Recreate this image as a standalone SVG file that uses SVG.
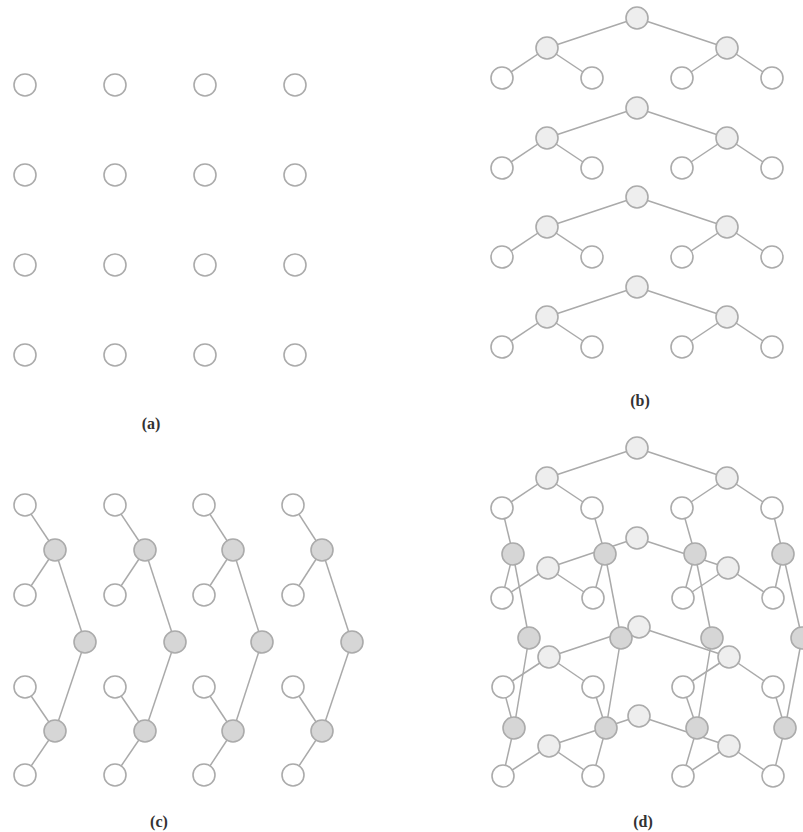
<svg xmlns="http://www.w3.org/2000/svg" width="803" height="832" viewBox="0 0 803 832">
  <style>
    .bg { fill: #ffffff; }
    circle { r: 11px; stroke: #ababab; stroke-width: 1.6; }
    .w { fill: #ffffff; }
    .l { fill: #eeeeee; }
    .g { fill: #d6d6d6; }
    .edges line { stroke: #aaaaaa; stroke-width: 1.5; }
    .cap { font-family: "Liberation Serif", "Times New Roman", serif; font-weight: bold; font-size: 16px; fill: #333333; text-anchor: middle; }
  </style>
  <rect class="bg" x="0" y="0" width="803" height="832"/>

  <!-- (a) 4x4 grid of isolated processors -->
  <g id="panel-a">
    <g id="a11"><circle class="w" cx="25" cy="85" r="11"/></g>
    <g id="a12"><circle class="w" cx="115" cy="85" r="11"/></g>
    <g id="a13"><circle class="w" cx="205" cy="85" r="11"/></g>
    <g id="a14"><circle class="w" cx="295" cy="85" r="11"/></g>
    <g id="a21"><circle class="w" cx="25" cy="175" r="11"/></g>
    <g id="a22"><circle class="w" cx="115" cy="175" r="11"/></g>
    <g id="a23"><circle class="w" cx="205" cy="175" r="11"/></g>
    <g id="a24"><circle class="w" cx="295" cy="175" r="11"/></g>
    <g id="a31"><circle class="w" cx="25" cy="265" r="11"/></g>
    <g id="a32"><circle class="w" cx="115" cy="265" r="11"/></g>
    <g id="a33"><circle class="w" cx="205" cy="265" r="11"/></g>
    <g id="a34"><circle class="w" cx="295" cy="265" r="11"/></g>
    <g id="a41"><circle class="w" cx="25" cy="355" r="11"/></g>
    <g id="a42"><circle class="w" cx="115" cy="355" r="11"/></g>
    <g id="a43"><circle class="w" cx="205" cy="355" r="11"/></g>
    <g id="a44"><circle class="w" cx="295" cy="355" r="11"/></g>
    <text class="cap" x="151" y="429">(a)</text>
  </g>

  <!-- (b) one binary tree per row -->
  <g id="panel-b">
    <g id="b-edges" class="edges">
      <line x1="637" y1="18" x2="547" y2="48"/><line x1="637" y1="18" x2="727" y2="48"/>
      <line x1="547" y1="48" x2="502" y2="78"/><line x1="547" y1="48" x2="592" y2="78"/>
      <line x1="727" y1="48" x2="682" y2="78"/><line x1="727" y1="48" x2="772" y2="78"/>

      <line x1="637" y1="108" x2="547" y2="138"/><line x1="637" y1="108" x2="727" y2="138"/>
      <line x1="547" y1="138" x2="502" y2="168"/><line x1="547" y1="138" x2="592" y2="168"/>
      <line x1="727" y1="138" x2="682" y2="168"/><line x1="727" y1="138" x2="772" y2="168"/>

      <line x1="637" y1="197" x2="547" y2="227"/><line x1="637" y1="197" x2="727" y2="227"/>
      <line x1="547" y1="227" x2="502" y2="257"/><line x1="547" y1="227" x2="592" y2="257"/>
      <line x1="727" y1="227" x2="682" y2="257"/><line x1="727" y1="227" x2="772" y2="257"/>

      <line x1="637" y1="287" x2="547" y2="317"/><line x1="637" y1="287" x2="727" y2="317"/>
      <line x1="547" y1="317" x2="502" y2="347"/><line x1="547" y1="317" x2="592" y2="347"/>
      <line x1="727" y1="317" x2="682" y2="347"/><line x1="727" y1="317" x2="772" y2="347"/>
    </g>
    <g id="b-t1-root"><circle class="l" cx="637" cy="18" r="11"/></g>
    <g id="b-t1-m1"><circle class="l" cx="547" cy="48" r="11"/></g>
    <g id="b-t1-m2"><circle class="l" cx="727" cy="48" r="11"/></g>
    <g id="b-t1-l1"><circle class="w" cx="502" cy="78" r="11"/></g>
    <g id="b-t1-l2"><circle class="w" cx="592" cy="78" r="11"/></g>
    <g id="b-t1-l3"><circle class="w" cx="682" cy="78" r="11"/></g>
    <g id="b-t1-l4"><circle class="w" cx="772" cy="78" r="11"/></g>

    <g id="b-t2-root"><circle class="l" cx="637" cy="108" r="11"/></g>
    <g id="b-t2-m1"><circle class="l" cx="547" cy="138" r="11"/></g>
    <g id="b-t2-m2"><circle class="l" cx="727" cy="138" r="11"/></g>
    <g id="b-t2-l1"><circle class="w" cx="502" cy="168" r="11"/></g>
    <g id="b-t2-l2"><circle class="w" cx="592" cy="168" r="11"/></g>
    <g id="b-t2-l3"><circle class="w" cx="682" cy="168" r="11"/></g>
    <g id="b-t2-l4"><circle class="w" cx="772" cy="168" r="11"/></g>

    <g id="b-t3-root"><circle class="l" cx="637" cy="197" r="11"/></g>
    <g id="b-t3-m1"><circle class="l" cx="547" cy="227" r="11"/></g>
    <g id="b-t3-m2"><circle class="l" cx="727" cy="227" r="11"/></g>
    <g id="b-t3-l1"><circle class="w" cx="502" cy="257" r="11"/></g>
    <g id="b-t3-l2"><circle class="w" cx="592" cy="257" r="11"/></g>
    <g id="b-t3-l3"><circle class="w" cx="682" cy="257" r="11"/></g>
    <g id="b-t3-l4"><circle class="w" cx="772" cy="257" r="11"/></g>

    <g id="b-t4-root"><circle class="l" cx="637" cy="287" r="11"/></g>
    <g id="b-t4-m1"><circle class="l" cx="547" cy="317" r="11"/></g>
    <g id="b-t4-m2"><circle class="l" cx="727" cy="317" r="11"/></g>
    <g id="b-t4-l1"><circle class="w" cx="502" cy="347" r="11"/></g>
    <g id="b-t4-l2"><circle class="w" cx="592" cy="347" r="11"/></g>
    <g id="b-t4-l3"><circle class="w" cx="682" cy="347" r="11"/></g>
    <g id="b-t4-l4"><circle class="w" cx="772" cy="347" r="11"/></g>
    <text class="cap" x="640" y="406">(b)</text>
  </g>

  <!-- (c) one tree per column, internal nodes shaded -->
  <g id="panel-c">
    <g id="c-edges" class="edges">
      <line x1="25" y1="505" x2="55" y2="550"/><line x1="55" y1="550" x2="25" y2="595"/>
      <line x1="55" y1="550" x2="85" y2="642"/><line x1="85" y1="642" x2="55" y2="731"/>
      <line x1="25" y1="687" x2="55" y2="731"/><line x1="55" y1="731" x2="25" y2="775"/>

      <line x1="115" y1="505" x2="145" y2="550"/><line x1="145" y1="550" x2="115" y2="595"/>
      <line x1="145" y1="550" x2="175" y2="642"/><line x1="175" y1="642" x2="145" y2="731"/>
      <line x1="115" y1="687" x2="145" y2="731"/><line x1="145" y1="731" x2="115" y2="775"/>

      <line x1="204" y1="505" x2="233" y2="550"/><line x1="233" y1="550" x2="204" y2="595"/>
      <line x1="233" y1="550" x2="262" y2="642"/><line x1="262" y1="642" x2="233" y2="731"/>
      <line x1="204" y1="687" x2="233" y2="731"/><line x1="233" y1="731" x2="204" y2="775"/>

      <line x1="293" y1="505" x2="322" y2="550"/><line x1="322" y1="550" x2="293" y2="595"/>
      <line x1="322" y1="550" x2="352" y2="642"/><line x1="352" y1="642" x2="322" y2="731"/>
      <line x1="293" y1="687" x2="322" y2="731"/><line x1="322" y1="731" x2="293" y2="775"/>
    </g>
    <g id="c1-l1"><circle class="w" cx="25" cy="505" r="11"/></g>
    <g id="c1-g1"><circle class="g" cx="55" cy="550" r="11"/></g>
    <g id="c1-l2"><circle class="w" cx="25" cy="595" r="11"/></g>
    <g id="c1-g2"><circle class="g" cx="85" cy="642" r="11"/></g>
    <g id="c1-l3"><circle class="w" cx="25" cy="687" r="11"/></g>
    <g id="c1-g3"><circle class="g" cx="55" cy="731" r="11"/></g>
    <g id="c1-l4"><circle class="w" cx="25" cy="775" r="11"/></g>

    <g id="c2-l1"><circle class="w" cx="115" cy="505" r="11"/></g>
    <g id="c2-g1"><circle class="g" cx="145" cy="550" r="11"/></g>
    <g id="c2-l2"><circle class="w" cx="115" cy="595" r="11"/></g>
    <g id="c2-g2"><circle class="g" cx="175" cy="642" r="11"/></g>
    <g id="c2-l3"><circle class="w" cx="115" cy="687" r="11"/></g>
    <g id="c2-g3"><circle class="g" cx="145" cy="731" r="11"/></g>
    <g id="c2-l4"><circle class="w" cx="115" cy="775" r="11"/></g>

    <g id="c3-l1"><circle class="w" cx="204" cy="505" r="11"/></g>
    <g id="c3-g1"><circle class="g" cx="233" cy="550" r="11"/></g>
    <g id="c3-l2"><circle class="w" cx="204" cy="595" r="11"/></g>
    <g id="c3-g2"><circle class="g" cx="262" cy="642" r="11"/></g>
    <g id="c3-l3"><circle class="w" cx="204" cy="687" r="11"/></g>
    <g id="c3-g3"><circle class="g" cx="233" cy="731" r="11"/></g>
    <g id="c3-l4"><circle class="w" cx="204" cy="775" r="11"/></g>

    <g id="c4-l1"><circle class="w" cx="293" cy="505" r="11"/></g>
    <g id="c4-g1"><circle class="g" cx="322" cy="550" r="11"/></g>
    <g id="c4-l2"><circle class="w" cx="293" cy="595" r="11"/></g>
    <g id="c4-g2"><circle class="g" cx="352" cy="642" r="11"/></g>
    <g id="c4-l3"><circle class="w" cx="293" cy="687" r="11"/></g>
    <g id="c4-g3"><circle class="g" cx="322" cy="731" r="11"/></g>
    <g id="c4-l4"><circle class="w" cx="293" cy="775" r="11"/></g>
    <text class="cap" x="159" y="827">(c)</text>
  </g>

  <!-- (d) row trees and column trees combined -->
  <g id="panel-d">
    <g id="d-edges" class="edges">
      <!-- row trees -->
      <line x1="637" y1="448" x2="547" y2="478"/><line x1="637" y1="448" x2="727" y2="478"/>
      <line x1="547" y1="478" x2="502" y2="508"/><line x1="547" y1="478" x2="592" y2="508"/>
      <line x1="727" y1="478" x2="682" y2="508"/><line x1="727" y1="478" x2="772" y2="508"/>

      <line x1="637" y1="538" x2="548" y2="568"/><line x1="637" y1="538" x2="728" y2="568"/>
      <line x1="548" y1="568" x2="502" y2="598"/><line x1="548" y1="568" x2="593" y2="598"/>
      <line x1="728" y1="568" x2="683" y2="598"/><line x1="728" y1="568" x2="773" y2="598"/>

      <line x1="639" y1="627" x2="549" y2="657"/><line x1="639" y1="627" x2="729" y2="657"/>
      <line x1="549" y1="657" x2="503" y2="687"/><line x1="549" y1="657" x2="593" y2="687"/>
      <line x1="729" y1="657" x2="683" y2="687"/><line x1="729" y1="657" x2="773" y2="687"/>

      <line x1="639" y1="716" x2="549" y2="746"/><line x1="639" y1="716" x2="729" y2="746"/>
      <line x1="549" y1="746" x2="503" y2="776"/><line x1="549" y1="746" x2="593" y2="776"/>
      <line x1="729" y1="746" x2="683" y2="776"/><line x1="729" y1="746" x2="773" y2="776"/>

      <!-- column trees -->
      <line x1="502" y1="508" x2="513" y2="554"/><line x1="513" y1="554" x2="502" y2="598"/>
      <line x1="513" y1="554" x2="529" y2="638"/><line x1="529" y1="638" x2="514" y2="728"/>
      <line x1="503" y1="687" x2="514" y2="728"/><line x1="514" y1="728" x2="503" y2="776"/>

      <line x1="592" y1="508" x2="605" y2="554"/><line x1="605" y1="554" x2="593" y2="598"/>
      <line x1="605" y1="554" x2="621" y2="638"/><line x1="621" y1="638" x2="606" y2="728"/>
      <line x1="593" y1="687" x2="606" y2="728"/><line x1="606" y1="728" x2="593" y2="776"/>

      <line x1="682" y1="508" x2="695" y2="554"/><line x1="695" y1="554" x2="683" y2="598"/>
      <line x1="695" y1="554" x2="712" y2="638"/><line x1="712" y1="638" x2="697" y2="728"/>
      <line x1="683" y1="687" x2="697" y2="728"/><line x1="697" y1="728" x2="683" y2="776"/>

      <line x1="772" y1="508" x2="783" y2="554"/><line x1="783" y1="554" x2="773" y2="598"/>
      <line x1="783" y1="554" x2="802" y2="638"/><line x1="802" y1="638" x2="785" y2="728"/>
      <line x1="773" y1="687" x2="785" y2="728"/><line x1="785" y1="728" x2="773" y2="776"/>
    </g>

    <g id="d-t1-root"><circle class="l" cx="637" cy="448" r="11"/></g>
    <g id="d-t1-m1"><circle class="l" cx="547" cy="478" r="11"/></g>
    <g id="d-t1-m2"><circle class="l" cx="727" cy="478" r="11"/></g>
    <g id="d-t1-l1"><circle class="w" cx="502" cy="508" r="11"/></g>
    <g id="d-t1-l2"><circle class="w" cx="592" cy="508" r="11"/></g>
    <g id="d-t1-l3"><circle class="w" cx="682" cy="508" r="11"/></g>
    <g id="d-t1-l4"><circle class="w" cx="772" cy="508" r="11"/></g>

    <g id="d-t2-root"><circle class="l" cx="637" cy="538" r="11"/></g>
    <g id="d-t2-m1"><circle class="l" cx="548" cy="568" r="11"/></g>
    <g id="d-t2-m2"><circle class="l" cx="728" cy="568" r="11"/></g>
    <g id="d-t2-l1"><circle class="w" cx="502" cy="598" r="11"/></g>
    <g id="d-t2-l2"><circle class="w" cx="593" cy="598" r="11"/></g>
    <g id="d-t2-l3"><circle class="w" cx="683" cy="598" r="11"/></g>
    <g id="d-t2-l4"><circle class="w" cx="773" cy="598" r="11"/></g>

    <g id="d-t3-root"><circle class="l" cx="639" cy="627" r="11"/></g>
    <g id="d-t3-m1"><circle class="l" cx="549" cy="657" r="11"/></g>
    <g id="d-t3-m2"><circle class="l" cx="729" cy="657" r="11"/></g>
    <g id="d-t3-l1"><circle class="w" cx="503" cy="687" r="11"/></g>
    <g id="d-t3-l2"><circle class="w" cx="593" cy="687" r="11"/></g>
    <g id="d-t3-l3"><circle class="w" cx="683" cy="687" r="11"/></g>
    <g id="d-t3-l4"><circle class="w" cx="773" cy="687" r="11"/></g>

    <g id="d-t4-root"><circle class="l" cx="639" cy="716" r="11"/></g>
    <g id="d-t4-m1"><circle class="l" cx="549" cy="746" r="11"/></g>
    <g id="d-t4-m2"><circle class="l" cx="729" cy="746" r="11"/></g>
    <g id="d-t4-l1"><circle class="w" cx="503" cy="776" r="11"/></g>
    <g id="d-t4-l2"><circle class="w" cx="593" cy="776" r="11"/></g>
    <g id="d-t4-l3"><circle class="w" cx="683" cy="776" r="11"/></g>
    <g id="d-t4-l4"><circle class="w" cx="773" cy="776" r="11"/></g>

    <g id="d-c1-g1"><circle class="g" cx="513" cy="554" r="11"/></g>
    <g id="d-c1-g2"><circle class="g" cx="529" cy="638" r="11"/></g>
    <g id="d-c1-g3"><circle class="g" cx="514" cy="728" r="11"/></g>
    <g id="d-c2-g1"><circle class="g" cx="605" cy="554" r="11"/></g>
    <g id="d-c2-g2"><circle class="g" cx="621" cy="638" r="11"/></g>
    <g id="d-c2-g3"><circle class="g" cx="606" cy="728" r="11"/></g>
    <g id="d-c3-g1"><circle class="g" cx="695" cy="554" r="11"/></g>
    <g id="d-c3-g2"><circle class="g" cx="712" cy="638" r="11"/></g>
    <g id="d-c3-g3"><circle class="g" cx="697" cy="728" r="11"/></g>
    <g id="d-c4-g1"><circle class="g" cx="783" cy="554" r="11"/></g>
    <g id="d-c4-g2"><circle class="g" cx="802" cy="638" r="11"/></g>
    <g id="d-c4-g3"><circle class="g" cx="785" cy="728" r="11"/></g>
    <text class="cap" x="643" y="827">(d)</text>
  </g>
</svg>
